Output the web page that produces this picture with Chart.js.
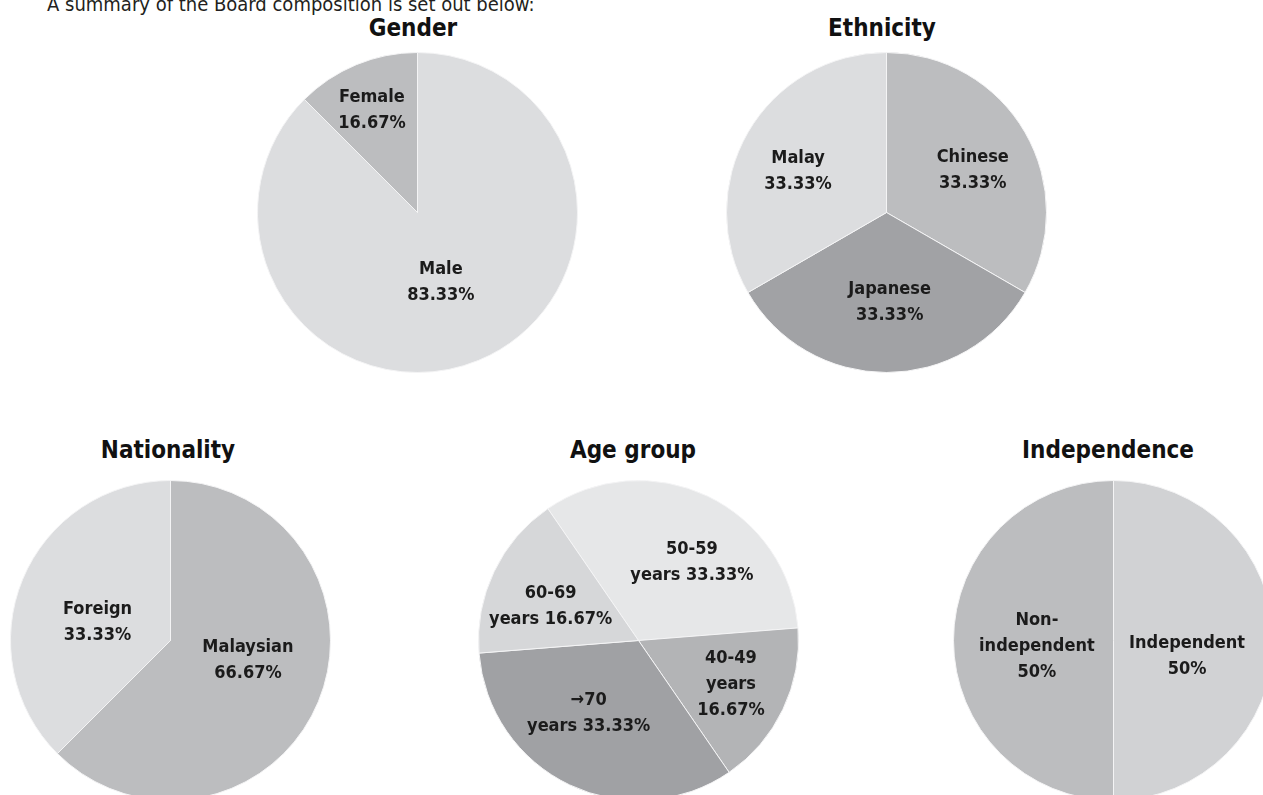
<!DOCTYPE html>
<html>
<head>
<meta charset="utf-8">
<script src="https://cdn.jsdelivr.net/npm/chart.js@4"></script>
<style>
  html, body { margin: 0; padding: 0; background: #fff; overflow: hidden; }
  body { width: 1263px; height: 795px; position: relative; font-family: "DejaVu Sans Condensed", "DejaVu Sans", sans-serif; color: #1b1b1b; }
  .intro { position: absolute; left: 47px; top: -6px; font-size: 20px; line-height: 20px; white-space: nowrap; color: #231f20; }
  .title { position: absolute; width: 300px; text-align: center; font-weight: bold; font-size: 24px; line-height: 24px; color: #111; }
  .pie { position: absolute; width: 321px; height: 321px; }
</style>
</head>
<body>
<div class="intro">A summary of the Board composition is set out below:</div>

<div class="title" style="left:263px; top:16px;">Gender</div>
<div class="title" style="left:732px; top:16px;">Ethnicity</div>
<div class="title" style="left:18px; top:438px;">Nationality</div>
<div class="title" style="left:483px; top:438px;">Age group</div>
<div class="title" style="left:958px; top:438px;">Independence</div>

<div class="pie" style="left:257px; top:52px;"><canvas id="genderChart" width="321" height="321"></canvas></div>
<div class="pie" style="left:726px; top:52px;"><canvas id="ethnicChart" width="321" height="321"></canvas></div>
<div class="pie" style="left:10px; top:480px;"><canvas id="nationChart" width="321" height="321"></canvas></div>
<div class="pie" style="left:478px; top:480px;"><canvas id="ageChart" width="321" height="321"></canvas></div>
<div class="pie" style="left:953px; top:480px;"><canvas id="indepChart" width="321" height="321"></canvas></div>

<script>
// data: slices clockwise from the start angle.
// *Vals = slice sizes as drawn, *Pct = percentages printed on the slices
const genderCats = ["Male", "Female"];
const genderVals = [87.5, 12.5];
const genderPct = ["83.33%", "16.67%"];

const ethnicCats = ["Chinese", "Japanese", "Malay"];
const ethnicVals = [33.33, 33.33, 33.33];
const ethnicPct = ["33.33%", "33.33%", "33.33%"];

const nationCats = ["Malaysian", "Foreign"];
const nationVals = [62.5, 37.5];
const nationPct = ["66.67%", "33.33%"];

const ageCats = ["50-59\nyears", "40-49\nyears", "→70\nyears", "60-69\nyears"];
const ageVals = [33.33, 16.67, 33.33, 16.67];
const agePct = ["33.33%", "16.67%", "33.33%", "16.67%"];

const indepCats = ["Independent", "Non-\nindependent"];
const indepVals = [50, 50];
const indepPct = ["50%", "50%"];

// draws the "name / percent" text inside each slice
const sliceLabels = {
  id: "sliceLabels",
  afterDatasetsDraw(chart, args, opts) {
    const ctx = chart.ctx;
    const meta = chart.getDatasetMeta(0);
    ctx.save();
    ctx.font = 'bold 18px "DejaVu Sans Condensed", "DejaVu Sans", sans-serif';
    ctx.fillStyle = "#1b1b1b";
    ctx.textAlign = "center";
    ctx.textBaseline = "middle";
    meta.data.forEach((arc, i) => {
      const p = arc.getProps(["x", "y", "startAngle", "endAngle", "outerRadius"], true);
      const [frac, shift] = opts.pos[i];
      const a = (p.startAngle + p.endAngle) / 2 + shift * Math.PI / 180;
      const cx = p.x + Math.cos(a) * p.outerRadius * frac;
      const cy = p.y + Math.sin(a) * p.outerRadius * frac;
      const lines = opts.text[i].split("\n");
      lines.forEach((ln, k) => {
        ctx.fillText(ln, cx, cy + (k - (lines.length - 1) / 2) * 26);
      });
    });
    ctx.restore();
  }
};

function makePie(id, cats, vals, pcts, colors, joins, pos, rotation) {
  const text = cats.map((c, i) => c + joins[i] + pcts[i]);
  new Chart(document.getElementById(id), {
    type: "pie",
    data: {
      labels: cats,
      datasets: [{
        data: vals,
        backgroundColor: colors,
        borderColor: "#f4f4f5",
        borderWidth: 1
      }]
    },
    options: {
      responsive: false,
      animation: false,
      devicePixelRatio: 1,
      rotation: rotation || 0,
      layout: { padding: 0 },
      events: [],
      plugins: {
        legend: { display: false },
        tooltip: { enabled: false },
        sliceLabels: { text: text, pos: pos }
      }
    },
    plugins: [sliceLabels]
  });
}

makePie("genderChart", genderCats, genderVals, genderPct,
  ["#dcdddf", "#bcbdbf"],
  ["\n", "\n"],
  [[0.46, 4], [0.70, -1.5]]);

makePie("ethnicChart", ethnicCats, ethnicVals, ethnicPct,
  ["#bcbdbf", "#a1a2a5", "#dcdddf"],
  ["\n", "\n", "\n"],
  [[0.60, 4], [0.56, -2], [0.61, -5]]);

makePie("nationChart", nationCats, nationVals, nationPct,
  ["#bcbdbf", "#dcdddf"],
  ["\n", "\n"],
  [[0.50, -8], [0.47, -8.5]]);

makePie("ageChart", ageCats, ageVals, agePct,
  ["#e6e7e8", "#b3b4b6", "#a0a1a4", "#d6d7d9"],
  [" ", "\n", " ", " "],
  [[0.59, 9], [0.64, 0], [0.55, 9], [0.59, -4]],
  -34.5);

makePie("indepChart", indepCats, indepVals, indepPct,
  ["#d1d2d4", "#bcbdbf"],
  ["\n", "\n"],
  [[0.47, 12], [0.48, -4]]);
</script>
</body>
</html>
